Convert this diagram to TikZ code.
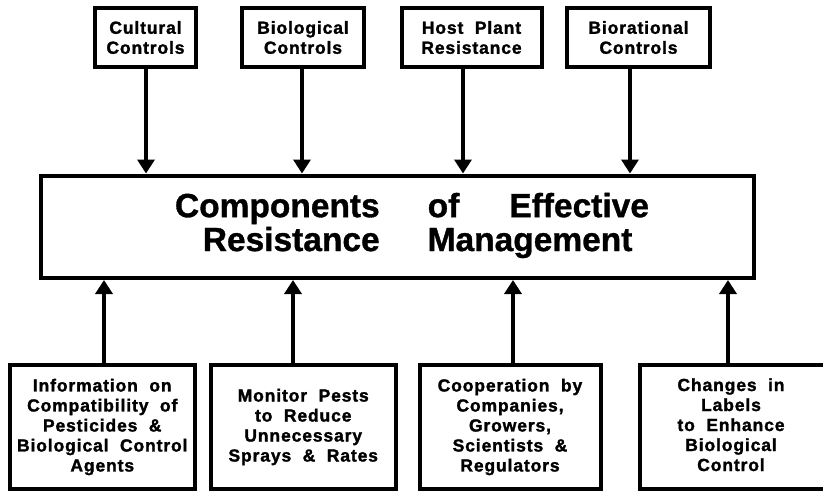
\documentclass[tikz,border=0pt]{standalone}
\usepackage{fontspec}
\setmainfont{Liberation Sans}
\newfontfamily\boxfont[LetterSpace=5,WordSpace=2.0,FakeBold=1.6]{Liberation Sans}
\newfontfamily\titlefont[FakeBold=1.0]{Liberation Sans}
\usetikzlibrary{arrows.meta}
\begin{document}
\begin{tikzpicture}[x=1pt,y=-1pt,
  frame/.style={draw, line width=4pt, inner sep=0pt, align=center,
    font=\boxfont\bfseries\fontsize{17.5}{20}\selectfont},
  topbox/.style={frame, minimum height=59pt},
  botbox/.style={frame, minimum height=123.5pt},
  arr/.style={line width=3.5pt, -{Triangle[width=17pt,length=14pt]}}]
\useasboundingbox (0,0) rectangle (823,491);
\fill[white] (0,0) rectangle (823,491);
\clip (0,0) rectangle (823,491);

% top boxes
\node[topbox, minimum width=101pt] (cul) at (145.5,37.5) {Cultural\\Controls};
\node[topbox, minimum width=122pt] (bio) at (303,37.5) {Biological\\Controls};
\node[topbox, minimum width=140pt] (hpr) at (471.5,37.5) {Host Plant\\Resistance};
\node[topbox, minimum width=143pt] (bra) at (638.5,37.5) {Biorational\\Controls};

% main box
\node[frame, minimum width=713pt, minimum height=102.5pt,
  font=\titlefont\bfseries\fontsize{33.5}{32}\selectfont] (main) at (397,226.75)
  {\hspace*{30pt}\begin{tabular}{@{}r@{\hspace{48pt}}l@{}}
   Components & of\hspace{50pt}Effective\\
   Resistance & Management
   \end{tabular}};

% bottom boxes
\node[botbox, minimum width=185.5pt] (b1) at (102.25,427)
  {Information on\\Compatibility of\\Pesticides \&\\Biological Control\\Agents};
\node[botbox, minimum width=185.5pt] (b2) at (303.25,427)
  {Monitor Pests\\to Reduce\\Unnecessary\\Sprays \& Rates};
\node[botbox, minimum width=181pt] (b3) at (510,427)
  {Cooperation by\\Companies,\\Growers,\\Scientists \&\\Regulators};
\node[botbox, minimum width=196pt] (b4) at (737.5,427)
  {\begin{tabular}{@{}c@{\hspace{13pt}}}Changes in\\Labels\\to Enhance\\Biological\\Control\end{tabular}};

% arrow positions
\coordinate (t1) at (146,0);
\coordinate (t2) at (302,0);
\coordinate (t3) at (463,0);
\coordinate (t4) at (630,0);
\coordinate (u1) at (104,0);
\coordinate (u2) at (293,0);
\coordinate (u3) at (513,0);
\coordinate (u4) at (728,0);

\draw[arr] (cul.south -| t1) -- (main.north -| t1);
\draw[arr] (bio.south -| t2) -- (main.north -| t2);
\draw[arr] (hpr.south -| t3) -- (main.north -| t3);
\draw[arr] (bra.south -| t4) -- (main.north -| t4);

\draw[arr] (b1.north -| u1) -- (main.south -| u1);
\draw[arr] (b2.north -| u2) -- (main.south -| u2);
\draw[arr] (b3.north -| u3) -- (main.south -| u3);
\draw[arr] (b4.north -| u4) -- (main.south -| u4);
\end{tikzpicture}
\end{document}
